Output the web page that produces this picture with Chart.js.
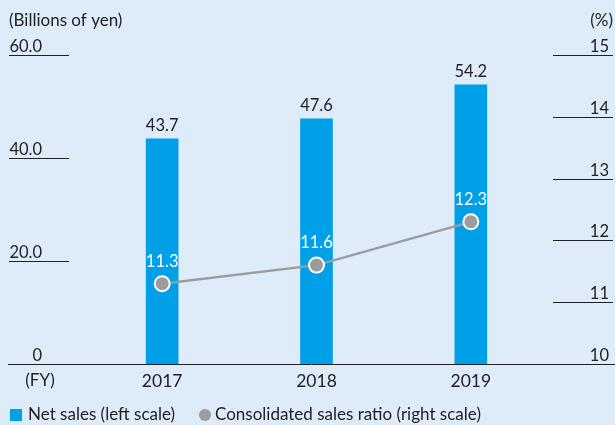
<!DOCTYPE html>
<html>
<head>
<meta charset="utf-8">
<script src="https://cdn.jsdelivr.net/npm/chart.js@4"></script>
<style>
  html, body { margin: 0; padding: 0; background: #deebf9; }
  #wrap { width: 615px; height: 425px; }
</style>
</head>
<body>
<div id="wrap"><canvas id="myChart"></canvas></div>
<script>
'use strict'

var years = ['2017', '2018', '2019'];
var netSales = [43.7, 47.6, 54.2];
var salesRatio = [11.3, 11.6, 12.3];
var leftTicks = [0, 20, 40, 60];
var rightTicks = [10, 11, 12, 13, 14, 15];

var FONT = 'Lato, "Noto Sans", sans-serif';
var TEXT = '#222222';
var BLUE = '#00a0e9';
var GRAY = '#9c9c9c';

// custom axes, labels, legend and data values
var decorations = {
    id: 'decorations',
    afterDatasetsDraw: function (chart) {
        var ctx = chart.ctx;
        var y = chart.scales.y;
        var y2 = chart.scales.y2;
        ctx.save();

        ctx.strokeStyle = '#222';
        ctx.lineWidth = 1;
        ctx.fillStyle = TEXT;
        ctx.font = '16.5px ' + FONT;
        ctx.textBaseline = 'alphabetic';

        // left scale
        ctx.textAlign = 'right';
        leftTicks.forEach(function (v) {
            var py = Math.round(y.getPixelForValue(v)) + 0.5;
            ctx.fillText(v === 0 ? '0' : v.toFixed(1), 42, py - 4);
            if (v > 0) {
                ctx.beginPath();
                ctx.moveTo(9, py);
                ctx.lineTo(69, py);
                ctx.stroke();
            }
        });

        // right scale
        rightTicks.forEach(function (v) {
            var py = Math.round(y2.getPixelForValue(v)) + 0.5;
            ctx.fillText(String(v), 609, py - 4);
            if (v > 10) {
                ctx.beginPath();
                ctx.moveTo(553, py);
                ctx.lineTo(613, py);
                ctx.stroke();
            }
        });

        // baseline
        var by = Math.round(y.getPixelForValue(0)) + 0.5;
        ctx.beginPath();
        ctx.moveTo(8, by);
        ctx.lineTo(615, by);
        ctx.stroke();

        // unit labels
        ctx.font = '17px ' + FONT;
        ctx.textBaseline = 'middle';
        ctx.textAlign = 'left';
        ctx.fillText('(Billions of yen)', 9, 21);
        ctx.textAlign = 'right';
        ctx.fillText('(%)', 613, 21);
        ctx.textAlign = 'center';
        ctx.fillText('(FY)', 40, 381);

        // legend
        var items = chart.data.datasets;
        ctx.textAlign = 'left';
        ctx.fillStyle = items[0].backgroundColor;
        ctx.fillRect(10, 409, 12, 12);
        ctx.fillStyle = TEXT;
        ctx.fillText(items[0].label, 28, 415);
        ctx.fillStyle = items[1].backgroundColor;
        ctx.beginPath();
        ctx.arc(205, 415, 6, 0, Math.PI * 2);
        ctx.fill();
        ctx.fillStyle = TEXT;
        ctx.fillText(items[1].label, 215, 415);

        // bar values
        ctx.textAlign = 'center';
        ctx.font = '16.5px ' + FONT;
        chart.getDatasetMeta(0).data.forEach(function (bar, i) {
            ctx.fillStyle = TEXT;
            ctx.fillText(netSales[i].toFixed(1), bar.x, bar.y - 13);
        });

        // ratio values
        chart.getDatasetMeta(1).data.forEach(function (pt, i) {
            ctx.fillStyle = '#ffffff';
            ctx.fillText(salesRatio[i].toFixed(1), pt.x, pt.y - 22);
        });

        ctx.restore();
    }
};

var ctx = document.getElementById('myChart').getContext('2d');
var myChart = new Chart(ctx, {
    type: 'bar',
    data: {
        labels: years,
        datasets: [{
            label: 'Net sales (left scale)',
            data: netSales,
            yAxisID: 'y',
            backgroundColor: BLUE,
            barThickness: 32,
            order: 2
        }, {
            type: 'line',
            label: 'Consolidated sales ratio (right scale)',
            data: salesRatio,
            yAxisID: 'y2',
            borderColor: GRAY,
            backgroundColor: GRAY,
            borderWidth: 2.5,
            pointRadius: 7.5,
            pointBackgroundColor: GRAY,
            pointBorderColor: '#ffffff',
            pointBorderWidth: 2,
            order: 1
        }]
    },
    options: {
        responsive: true,
        maintainAspectRatio: false,
        animation: false,
        layout: {
            padding: { top: 55, left: 0, right: 0, bottom: 0 }
        },
        plugins: {
            legend: { display: false },
            tooltip: { enabled: false }
        },
        scales: {
            x: {
                grid: { display: false, drawTicks: false },
                border: { display: false },
                ticks: {
                    color: TEXT,
                    padding: 7,
                    font: { family: FONT, size: 17.5 }
                },
                afterFit: function (scale) { scale.height = 61; }
            },
            y: {
                position: 'left',
                min: 0,
                max: 60,
                grid: { display: false },
                border: { display: false },
                ticks: { display: false },
                afterFit: function (scale) { scale.width = 85; }
            },
            y2: {
                position: 'right',
                min: 10,
                max: 15,
                grid: { display: false },
                border: { display: false },
                ticks: { display: false },
                afterFit: function (scale) { scale.width = 67; }
            }
        }
    },
    plugins: [decorations]
});
</script>
</body>
</html>
